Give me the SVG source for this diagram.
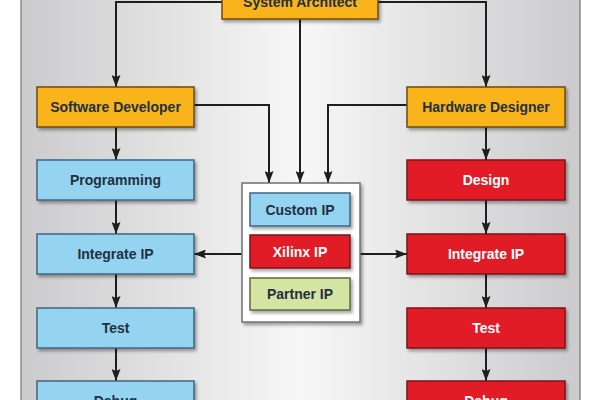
<svg xmlns="http://www.w3.org/2000/svg" width="600" height="400" viewBox="0 0 600 400">
  <defs>
    <linearGradient id="bg" x1="0" y1="0" x2="1" y2="0">
      <stop offset="0" stop-color="#cbcbcd"/>
      <stop offset="0.5" stop-color="#f7f7f7"/>
      <stop offset="1" stop-color="#cbcbcd"/>
    </linearGradient>
    <filter id="sh" x="-10%" y="-10%" width="130%" height="140%">
      <feDropShadow dx="2" dy="2.5" stdDeviation="1.5" flood-color="#000" flood-opacity="0.35"/>
    </filter>
    <marker id="ah" viewBox="0 0 12 9" refX="12" refY="4.5" markerWidth="12" markerHeight="9" markerUnits="userSpaceOnUse" orient="auto">
      <path d="M0,0 L12,4.5 L0,9 L2,4.5 Z" fill="#1e1e1e"/>
    </marker>
  </defs>
  <style>
    .box { stroke-width: 1.5; filter: url(#sh); }
    .orange { fill: #f9b41c; stroke: #6e4a12; }
    .blue { fill: #94d4f1; stroke: #3e6582; }
    .red { fill: #e21f26; stroke: #7e1418; }
    .green { fill: #d4e4a2; stroke: #5e6b3c; }
    .cont { fill: #ffffff; stroke: #707070; stroke-width: 1.5; filter: url(#sh); }
    .t { font-family: "Liberation Sans", Arial, sans-serif; font-weight: bold; font-size: 14px; text-anchor: middle; dominant-baseline: central; }
    .dk { fill: #23303f; }
    .wh { fill: #ffffff; }
    .ln { fill: none; stroke: #1e1e1e; stroke-width: 2; }
  </style>
  <rect x="0" y="0" width="600" height="400" fill="#ffffff"/>
  <rect x="21" y="-5" width="559" height="410" fill="url(#bg)" stroke="#8a8a8a" stroke-width="1.5"/>

  <g id="connectors">
    <path class="ln" d="M222,2 H116 V87" marker-end="url(#ah)"/>
    <path class="ln" d="M378,2 H486 V87" marker-end="url(#ah)"/>
    <path class="ln" d="M300,19 V183" marker-end="url(#ah)"/>
    <path class="ln" d="M194,105 H269 V183" marker-end="url(#ah)"/>
    <path class="ln" d="M407,105 H328 V183" marker-end="url(#ah)"/>
    <path class="ln" d="M116,127 V160" marker-end="url(#ah)"/>
    <path class="ln" d="M116,200 V234" marker-end="url(#ah)"/>
    <path class="ln" d="M116,274 V308" marker-end="url(#ah)"/>
    <path class="ln" d="M116,348 V381" marker-end="url(#ah)"/>
    <path class="ln" d="M486,127 V160" marker-end="url(#ah)"/>
    <path class="ln" d="M486,200 V234" marker-end="url(#ah)"/>
    <path class="ln" d="M486,274 V308" marker-end="url(#ah)"/>
    <path class="ln" d="M486,348 V381" marker-end="url(#ah)"/>
    <path class="ln" d="M242,254 H194" marker-end="url(#ah)"/>
    <path class="ln" d="M360,254 H407" marker-end="url(#ah)"/>
  </g>

  <g id="system-architect">
    <rect class="box orange" x="222" y="-12" width="156" height="31"/>
    <text class="t dk" x="300" y="2">System Architect</text>
  </g>
  <g id="software-developer">
    <rect class="box orange" x="37" y="87" width="157" height="40"/>
    <text class="t dk" x="115.5" y="107">Software Developer</text>
  </g>
  <g id="hardware-designer">
    <rect class="box orange" x="407" y="87" width="158" height="40"/>
    <text class="t dk" x="486" y="107">Hardware Designer</text>
  </g>

  <g id="programming">
    <rect class="box blue" x="37" y="160" width="157" height="40"/>
    <text class="t dk" x="115.5" y="180">Programming</text>
  </g>
  <g id="sw-integrate-ip">
    <rect class="box blue" x="37" y="234" width="157" height="40"/>
    <text class="t dk" x="115.5" y="254">Integrate IP</text>
  </g>
  <g id="sw-test">
    <rect class="box blue" x="37" y="308" width="157" height="40"/>
    <text class="t dk" x="115.5" y="328">Test</text>
  </g>
  <g id="sw-debug">
    <rect class="box blue" x="37" y="381" width="157" height="40"/>
    <text class="t dk" x="115.5" y="401">Debug</text>
  </g>

  <g id="design">
    <rect class="box red" x="407" y="160" width="158" height="40"/>
    <text class="t wh" x="486" y="180">Design</text>
  </g>
  <g id="hw-integrate-ip">
    <rect class="box red" x="407" y="234" width="158" height="40"/>
    <text class="t wh" x="486" y="254">Integrate IP</text>
  </g>
  <g id="hw-test">
    <rect class="box red" x="407" y="308" width="158" height="40"/>
    <text class="t wh" x="486" y="328">Test</text>
  </g>
  <g id="hw-debug">
    <rect class="box red" x="407" y="381" width="158" height="40"/>
    <text class="t wh" x="486" y="401">Debug</text>
  </g>

  <g id="ip-library">
    <rect class="cont" x="242" y="183" width="118" height="139"/>
  </g>
  <g id="custom-ip">
    <rect class="box blue" x="250" y="193" width="100" height="33"/>
    <text class="t dk" x="300" y="209.5">Custom IP</text>
  </g>
  <g id="xilinx-ip">
    <rect class="box red" x="250" y="235" width="100" height="33"/>
    <text class="t wh" x="300" y="251.5">Xilinx IP</text>
  </g>
  <g id="partner-ip">
    <rect class="box green" x="250" y="278" width="100" height="32"/>
    <text class="t dk" x="300" y="294">Partner IP</text>
  </g>
</svg>
